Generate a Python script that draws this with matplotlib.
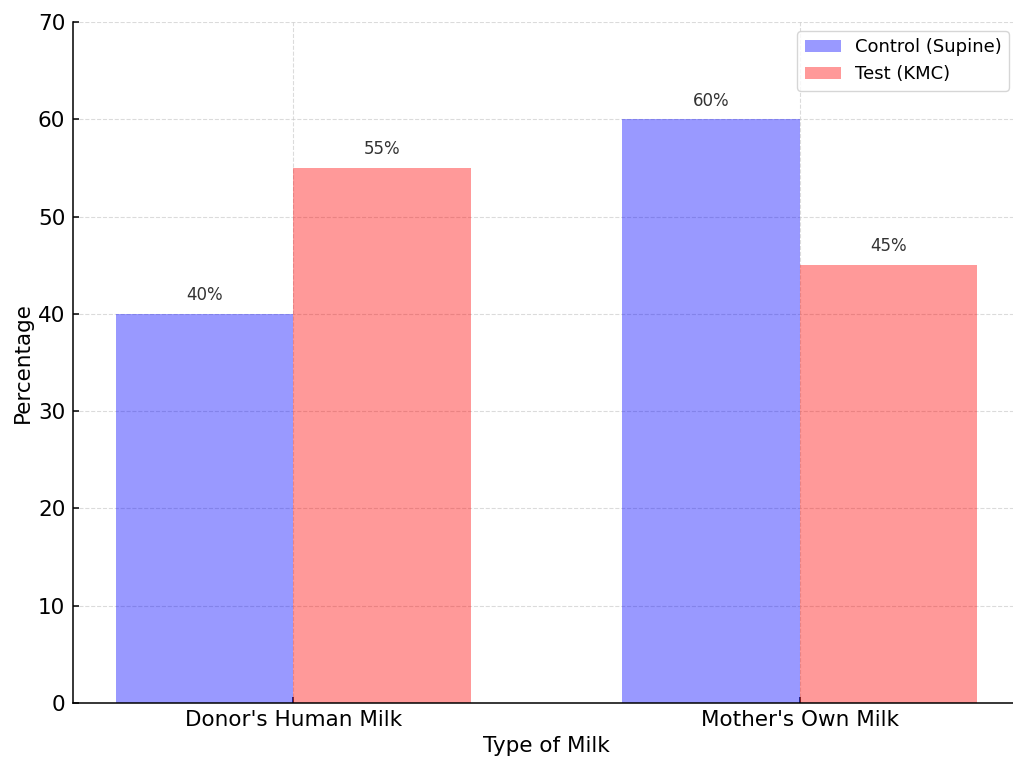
import numpy as np
import matplotlib.pyplot as plt

categories = ["Donor's Human Milk", "Mother's Own Milk"]
control_values = [40, 60]
test_values = [55, 45]
series_labels = ["Control (Supine)", "Test (KMC)"]

fig = plt.figure(figsize=(10.13, 7.62), dpi=100)
ax = fig.add_axes([73 / 1013, 1 - 703 / 762, (1020 - 73) / 1013, (703 - 22) / 762])

x = np.arange(len(categories))
width = 0.35

bars_c = ax.bar(x - width / 2, control_values, width, color="blue", alpha=0.4,
                label=series_labels[0])
bars_t = ax.bar(x + width / 2, test_values, width, color="red", alpha=0.4,
                label=series_labels[1])

for bars in (bars_c, bars_t):
    for b in bars:
        h = b.get_height()
        ax.annotate(f"{h:.0f}%", (b.get_x() + b.get_width() / 2, h),
                    xytext=(0, 7), textcoords="offset points",
                    ha="center", va="bottom", fontsize=12, color="#333333")

ax.set_xticks(x)
ax.set_xticklabels(categories, fontsize=15.5)
ax.tick_params(axis="y", labelsize=15.5, pad=5.5)
ax.tick_params(axis="x", pad=5)
ax.tick_params(direction="in", length=4.5, width=1.1)
ax.set_ylim(0, 70)
ax.set_xlabel("Type of Milk", fontsize=15.5, labelpad=4.5)
ax.set_ylabel("Percentage", fontsize=15.5)

ax.grid(True, linestyle="--", alpha=0.7, color="#cccccc")
ax.set_axisbelow(True)
ax.spines["top"].set_visible(False)
ax.spines["right"].set_visible(False)
for s in ("left", "bottom"):
    ax.spines[s].set_linewidth(1.1)

ax.legend(loc="upper right", fontsize=13, bbox_to_anchor=(0.998, 1.0))

fig.savefig("out.png", dpi=100)
